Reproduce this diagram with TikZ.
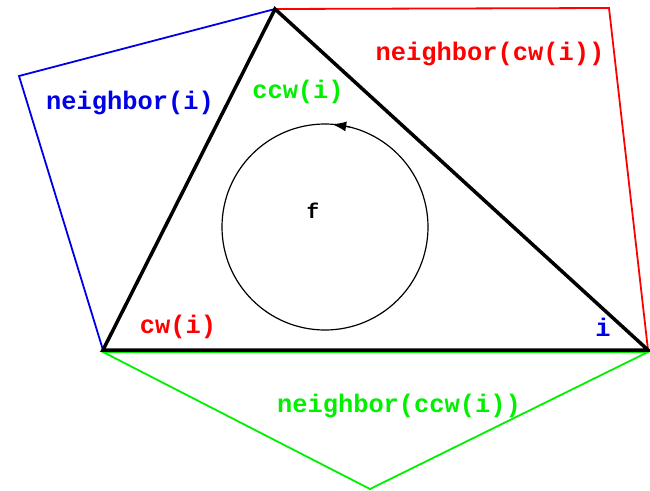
\documentclass[tikz,border=0pt]{standalone}
\usepackage{fontspec}
\setmonofont{Liberation Mono}
\usetikzlibrary{arrows.meta}
\definecolor{myred}{RGB}{255,0,0}
\definecolor{myblue}{RGB}{0,0,230}
\definecolor{mygreen}{RGB}{0,240,0}
\tikzset{
  lbl/.style={font=\ttfamily\bfseries\fontsize{25.4}{25.4}\selectfont, inner sep=0pt},
  edgeline/.style={line width=1.8pt, line join=miter},
  tri/.style={line width=3.5pt, line join=miter},
}
\begin{document}
\begin{tikzpicture}[x=1pt,y=-1pt]
\useasboundingbox (0,0) rectangle (650,490);
\coordinate (T) at (275,9);
\coordinate (BL) at (103,350);
\coordinate (BR) at (648,350);
\coordinate (B) at (19,76);
\coordinate (R) at (609,8);
\coordinate (G) at (370,489);
\coordinate (C) at (325,227);
\coordinate (A1) at ([shift={(-76:103)}]C);
\coordinate (A2) at ([shift={(-86:103)}]C);
% neighbor polygons
\draw[edgeline, myblue] (T) -- (B) -- (BL);
\draw[edgeline, myred] (T) -- (R) -- (BR);
\draw[edgeline, mygreen] ([yshift=-2]BL) -- (G) -- ([yshift=-2]BR) -- cycle;
% triangle
\draw[tri] (T) -- (BL) -- (BR) -- cycle;
% circle
\draw[line width=1.2pt] (C) circle[radius=103];
\draw[line width=1.2pt, -{Latex[length=14pt,width=10pt]}] (A1) -- (A2);
% labels
\node[lbl, myblue] (ln) at (130,103) {neighbor(i)};
\node[lbl, myred] (lncw) at (490,54) {neighbor(cw(i))};
\node[lbl, mygreen] (lccw) at (298,92) {ccw(i)};
\node[lbl, myred] (lcw) at (178,327) {cw(i)};
\node[lbl, myblue] (li) at (603,327) {i};
\node[lbl, mygreen] (lnccw) at (399,406) {neighbor(ccw(i))};
\node[font=\ttfamily\bfseries\fontsize{21}{21}\selectfont, inner sep=0pt] (f) at (313,211) {f};
\end{tikzpicture}
\end{document}
